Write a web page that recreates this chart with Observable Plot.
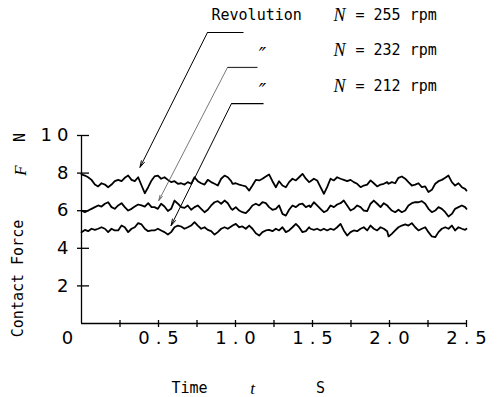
<!DOCTYPE html>
<html><head><meta charset="utf-8">
<script src="https://cdn.jsdelivr.net/npm/d3@7"></script>
<script src="https://cdn.jsdelivr.net/npm/@observablehq/plot@0.6"></script>
<style>
html,body{margin:0;padding:0;background:#fff;}
#chart g[aria-label="x-axis tick label"] text{letter-spacing:6px}
#chart g[aria-label="y-axis tick label"] text{letter-spacing:5px}
#chart g[aria-label="mono-text"] text{letter-spacing:1.5px}
</style></head><body><div id="chart"></div>
<script>
// time samples (s)
const time = [0, 0.022, 0.043, 0.065, 0.087, 0.108, 0.130, 0.152, 0.173, 0.195, 0.216, 0.238, 0.260, 0.281, 0.303, 0.325, 0.346, 0.368, 0.390, 0.411, 0.433, 0.455,
  0.474, 0.496, 0.517, 0.539, 0.561, 0.582, 0.604, 0.626, 0.647, 0.669, 0.690, 0.712, 0.734, 0.755, 0.777, 0.799, 0.820, 0.842, 0.864, 0.885, 0.907, 0.929, 0.950, 0.972,
  0.981, 1.002, 1.024, 1.045, 1.067, 1.089, 1.110, 1.132, 1.154, 1.175, 1.197, 1.218, 1.240, 1.262, 1.283, 1.305, 1.327, 1.348, 1.370, 1.392, 1.413, 1.435, 1.457, 1.478,
  1.487, 1.509, 1.530, 1.552, 1.574, 1.595, 1.617, 1.639, 1.660, 1.682, 1.703, 1.725, 1.747, 1.768, 1.790, 1.812, 1.833, 1.855, 1.877, 1.898, 1.920, 1.942, 1.963, 1.985,
  1.994, 2.015, 2.037, 2.058, 2.080, 2.102, 2.123, 2.145, 2.167, 2.188, 2.210, 2.232, 2.253, 2.275, 2.297, 2.318, 2.340, 2.362, 2.383, 2.405, 2.426, 2.448, 2.470, 2.491, 2.500];
// contact force (N), N = 255 rpm
const force255 = [7.93, 7.87, 7.78, 7.64, 7.39, 7.29, 7.46, 7.39, 7.25, 7.39, 7.57, 7.64, 7.57, 7.75, 7.87, 7.64, 7.57, 7.78, 7.34, 6.93, 7.25, 7.61,
  7.82, 7.87, 7.70, 7.78, 7.64, 7.52, 7.57, 7.43, 7.46, 7.39, 7.52, 7.43, 7.78, 7.57, 7.46, 7.39, 7.64, 7.52, 7.43, 7.34, 7.70, 7.87, 7.78, 7.57,
  7.43, 7.46, 7.39, 7.34, 7.29, 7.07, 7.34, 7.64, 7.61, 7.70, 7.82, 7.93, 7.57, 7.25, 7.57, 7.34, 7.25, 7.52, 7.70, 7.61, 7.78, 7.96, 7.70, 7.52,
  7.57, 7.70, 7.61, 7.25, 6.90, 7.25, 7.70, 7.61, 7.78, 7.70, 7.64, 7.57, 7.64, 7.52, 7.43, 7.25, 7.34, 7.39, 7.61, 7.46, 7.29, 7.39, 7.43, 7.52,
  7.43, 7.52, 7.46, 7.75, 7.82, 7.70, 7.52, 7.34, 7.39, 7.46, 7.25, 7.29, 6.99, 7.11, 7.43, 7.57, 7.64, 7.75, 7.87, 7.52, 7.34, 7.46, 7.25, 7.16, 7.07];
// N = 232 rpm
const force232 = [6.01, 5.92, 6.01, 6.10, 6.19, 6.28, 6.22, 6.37, 6.45, 6.19, 6.10, 6.28, 6.40, 6.19, 6.01, 6.10, 6.22, 6.33, 6.28, 6.22, 6.40, 6.19,
  6.19, 6.10, 6.37, 6.22, 5.98, 6.10, 6.54, 6.37, 6.19, 6.15, 6.28, 6.05, 6.19, 6.28, 6.10, 5.92, 6.05, 6.28, 6.45, 6.51, 6.37, 6.54, 6.40, 6.10,
  6.05, 6.19, 6.01, 5.92, 5.87, 6.05, 6.28, 6.37, 6.28, 6.45, 6.40, 6.19, 6.05, 6.10, 6.28, 5.83, 5.74, 6.05, 6.28, 6.19, 6.33, 6.37, 6.19, 6.28,
  6.19, 6.45, 6.28, 6.10, 5.92, 6.01, 6.28, 6.19, 6.33, 6.40, 6.54, 6.28, 6.01, 6.10, 6.28, 6.19, 6.01, 5.98, 6.37, 6.54, 6.37, 6.19, 6.40, 6.28,
  6.19, 6.01, 5.92, 6.05, 5.92, 6.01, 6.28, 6.40, 6.45, 6.45, 6.51, 6.37, 6.10, 5.92, 6.01, 6.19, 6.10, 5.92, 5.69, 5.83, 6.10, 6.19, 6.28, 6.19, 6.10];
// N = 212 rpm
const force212 = [4.86, 4.98, 4.91, 5.04, 4.98, 5.04, 5.12, 5.04, 4.86, 5.04, 4.95, 4.95, 5.21, 5.12, 4.86, 5.04, 5.12, 5.34, 5.27, 5.04, 4.91, 4.95,
  4.95, 5.04, 4.95, 4.86, 4.73, 4.86, 5.12, 5.21, 5.16, 5.04, 5.12, 5.21, 5.39, 5.21, 5.04, 5.12, 4.98, 4.91, 4.73, 4.86, 5.04, 5.12, 5.04, 5.16,
  5.21, 5.30, 5.12, 5.16, 5.04, 5.21, 5.04, 4.80, 4.68, 4.86, 4.95, 4.98, 4.91, 5.04, 4.95, 5.12, 4.86, 4.95, 5.12, 5.30, 5.12, 4.86, 4.91, 5.12,
  5.04, 4.98, 5.04, 4.95, 5.04, 4.95, 5.04, 4.98, 5.12, 5.30, 4.95, 4.68, 4.86, 4.95, 4.91, 5.04, 5.12, 4.95, 5.21, 5.04, 4.95, 5.12, 5.04, 4.91,
  4.63, 4.77, 4.95, 5.12, 5.21, 5.27, 5.21, 5.34, 5.12, 4.95, 5.04, 5.12, 4.86, 4.63, 4.59, 4.86, 5.04, 5.12, 5.04, 5.21, 4.95, 5.12, 5.04, 4.98, 5.04];

// axis ticks
const xTicks = [0.25, 0.5, 0.75, 1, 1.25, 1.5, 1.75, 2, 2.25, 2.5];
const xTickLabels = [0.5, 1, 1.5, 2, 2.5];
const yTicks = [2, 4, 6, 8, 10];

// annotation (legend) text and arrows, in data units
const rpmLabels = ["= 255 rpm", "= 232 rpm", "= 212 rpm"];
const rowForce = [16.38, 14.52, 12.61];
const arrowFromT = [0.818, 0.948, 0.974];
const arrowFromF = [15.48, 13.62, 11.70];
const arrowToT = [0.380, 0.502, 0.582];
const arrowToF = [8.31, 6.54, 5.21];
const underlineEndT = [1.052, 1.143, 1.182];
const revolutionT = 0.844, dittoT = 1.175, nT = 1.636, rpmT = 1.779;

const rows = [];
[[force255, "255"], [force232, "232"], [force212, "212"]].forEach(([vals, s]) =>
  vals.forEach((f, i) => rows.push({t: time[i], f, series: s})));
const arrows = arrowFromT.map((t, i) => ({i, x1: t, y1: arrowFromF[i], x2: arrowToT[i], y2: arrowToF[i], xe: underlineEndT[i]}));
const legendRows = rpmLabels.map((txt, i) => ({i, txt, y: rowForce[i]}));

const mono = "DejaVu Sans Mono";
const chart = Plot.plot({
  width: 500, height: 397,
  marginLeft: 81, marginRight: 34, marginTop: 135, marginBottom: 74,
  x: {domain: [0, 2.5], label: null},
  y: {domain: [0, 10], label: null},
  style: {fontFamily: "DejaVu Sans", fontSize: "18px", background: "#fff", color: "#000", overflow: "visible"},
  marks: [
    Plot.ruleX([0], {strokeWidth: 1.3}),
    Plot.ruleY([0], {strokeWidth: 1.3}),
    Plot.axisX({ticks: xTicks, tickSize: 4, tickFormat: () => "", strokeWidth: 1.3}),
    Plot.axisX({ticks: xTicks, tickSize: 3, dy: -3, tickFormat: () => "", strokeWidth: 1.3}),
    Plot.axisX({ticks: xTickLabels, tickSize: 0, tickPadding: 8, tickFormat: d3.format(".1f"), fontSize: 18, dx: 3}),
    Plot.axisY({ticks: yTicks, tickSize: 4, tickFormat: () => "", strokeWidth: 1.3}),
    Plot.axisY({ticks: yTicks, tickSize: 8, dx: 8, tickFormat: () => "", strokeWidth: 1.3}),
    Plot.axisY({ticks: yTicks, tickSize: 0, tickPadding: 8, fontSize: 18}),
    Plot.text(["0"], {x: 0, y: 0, dx: -14, dy: 15, fontSize: 18}),
    Plot.line(rows, {x: "t", y: "f", z: "series", stroke: "#000", strokeWidth: 1.8, strokeLinejoin: "round"}),
    // legend arrows
    Plot.arrow(arrows.filter(d => d.i !== 1), {x1: "x1", y1: "y1", x2: "x2", y2: "y2", stroke: "#000", strokeWidth: 1, headLength: 10, headAngle: 30}),
    Plot.arrow(arrows.filter(d => d.i === 1), {x1: "x1", y1: "y1", x2: "x2", y2: "y2", stroke: "#555", strokeWidth: 0.8, headLength: 10, headAngle: 30}),
    Plot.link(arrows, {x1: "x1", y1: "y1", x2: "xe", y2: "y1", stroke: d => d.i === 1 ? "#333" : "#000", strokeWidth: 1.2}),
    // legend text
    Plot.text(["Revolution"], {x: revolutionT, y: rowForce[0], textAnchor: "start", fontFamily: mono, fontSize: 15, ariaLabel: "mono-text"}),
    Plot.text(legendRows.filter(d => d.i > 0), {x: dittoT, y: "y", text: () => "\u2033", fontFamily: "DejaVu Serif", fontStyle: "italic", fontSize: 20, dy: 5}),
    Plot.text(legendRows, {x: nT, y: "y", text: () => "N", textAnchor: "start", fontFamily: "Liberation Serif", fontStyle: "italic", fontSize: 18}),
    Plot.text(legendRows, {x: rpmT, y: "y", text: "txt", textAnchor: "start", fontFamily: mono, fontSize: 15, ariaLabel: "mono-text"}),
    // axis titles
    Plot.text(["Contact Force"], {frameAnchor: "left", textAnchor: "middle", lineAnchor: "middle", dx: -63, dy: 49, rotate: -90, fontFamily: mono, fontSize: 15, ariaLabel: "mono-text"}),
    Plot.text(["F"], {frameAnchor: "left", textAnchor: "middle", lineAnchor: "middle", dx: -61, dy: -59, rotate: -90, fontFamily: "Liberation Serif", fontStyle: "italic", fontSize: 17}),
    Plot.text(["N"], {frameAnchor: "left", textAnchor: "middle", lineAnchor: "middle", dx: -61, dy: -92, rotate: -90, fontFamily: mono, fontSize: 15}),
    Plot.text(["Time"], {frameAnchor: "bottom", lineAnchor: "middle", dx: -84.5, dy: 65, fontFamily: mono, fontSize: 15, ariaLabel: "mono-text"}),
    Plot.text(["t"], {frameAnchor: "bottom", lineAnchor: "middle", dx: -21.5, dy: 65, fontFamily: "Liberation Serif", fontStyle: "italic", fontSize: 17}),
    Plot.text(["S"], {frameAnchor: "bottom", lineAnchor: "middle", dx: 46.5, dy: 65, fontFamily: mono, fontSize: 15})
  ]
});
document.getElementById("chart").appendChild(chart);
</script></body></html>
